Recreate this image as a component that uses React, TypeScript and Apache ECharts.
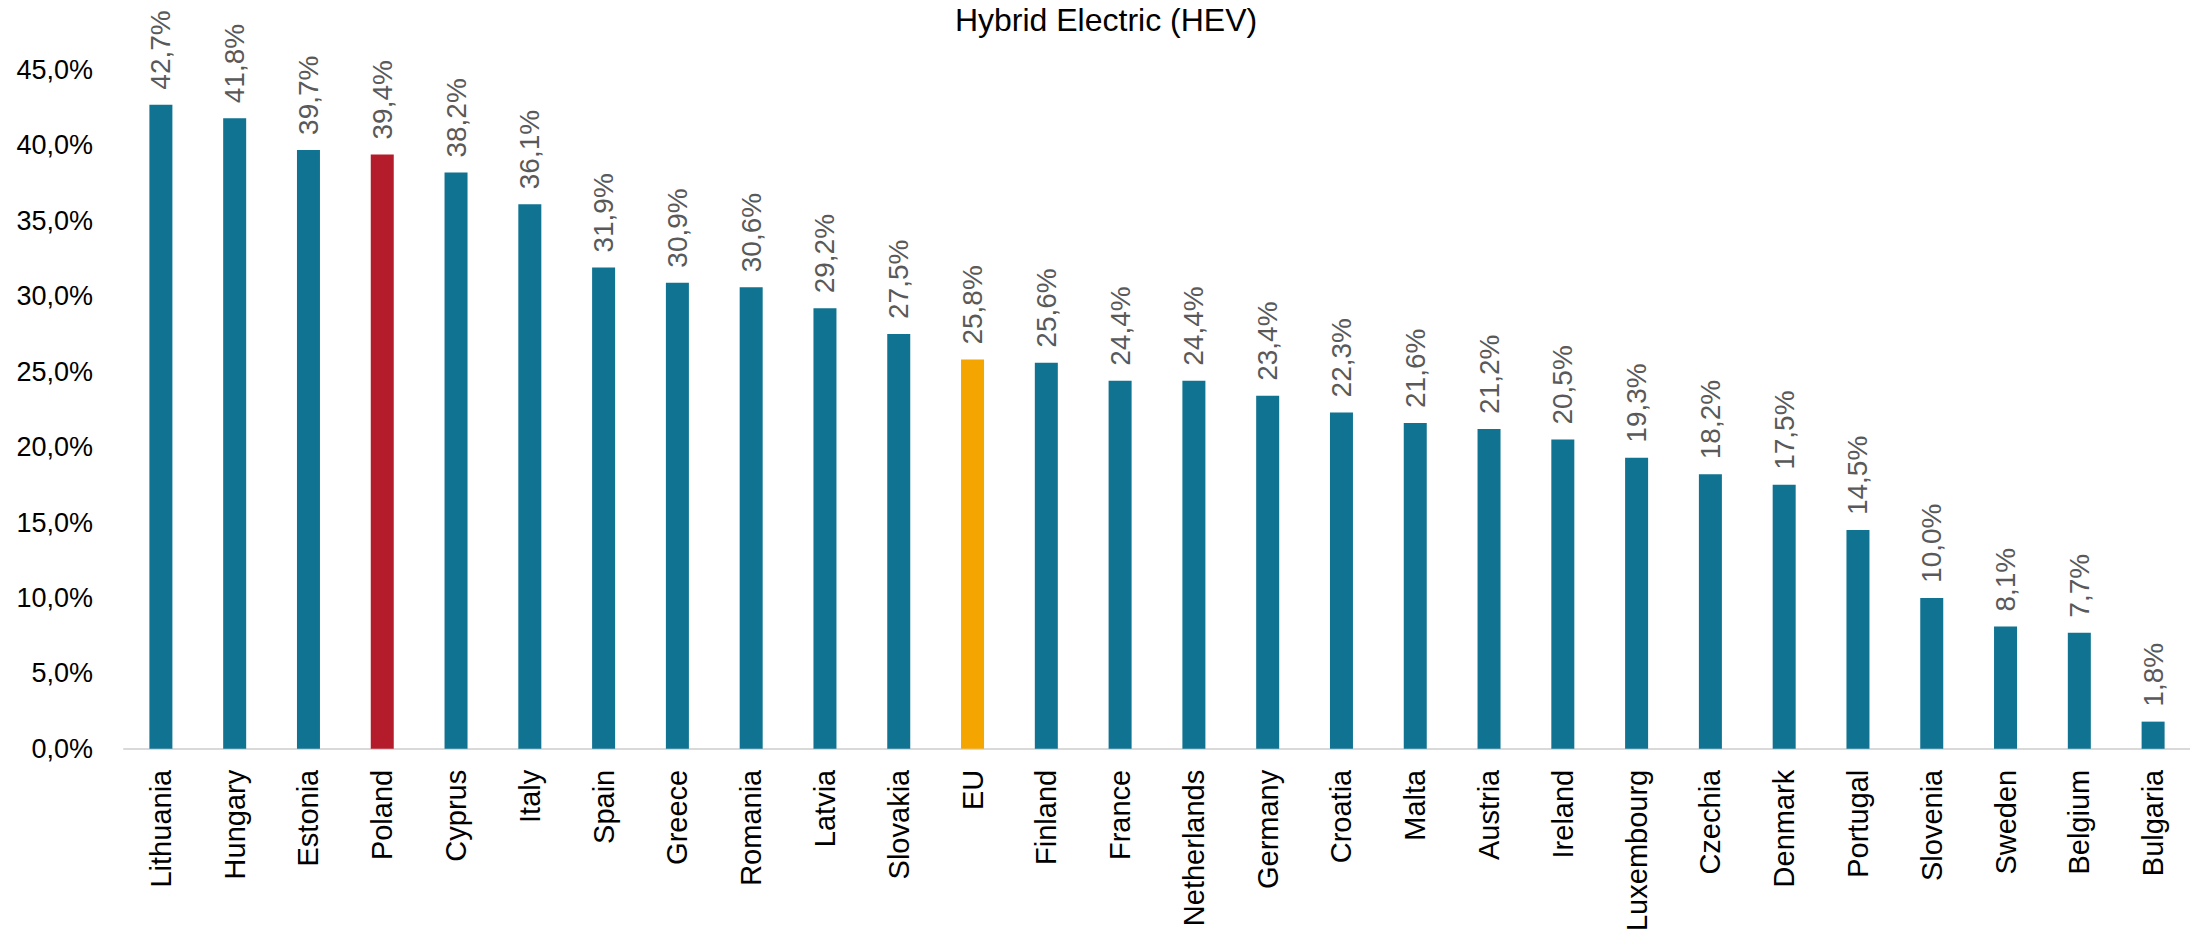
import React, { useEffect, useRef } from "react";
import * as echarts from "echarts";

const TITLE = "Hybrid Electric (HEV)";

const countries = [
  "Lithuania", "Hungary", "Estonia", "Poland", "Cyprus", "Italy", "Spain",
  "Greece", "Romania", "Latvia", "Slovakia", "EU", "Finland", "France",
  "Netherlands", "Germany", "Croatia", "Malta", "Austria", "Ireland",
  "Luxembourg", "Czechia", "Denmark", "Portugal", "Slovenia", "Sweden",
  "Belgium", "Bulgaria",
];

const shares = [
  42.7, 41.8, 39.7, 39.4, 38.2, 36.1, 31.9,
  30.9, 30.6, 29.2, 27.5, 25.8, 25.6, 24.4,
  24.4, 23.4, 22.3, 21.6, 21.2, 20.5,
  19.3, 18.2, 17.5, 14.5, 10.0, 8.1,
  7.7, 1.8,
];

const yMin = 0;
const yMax = 45;
const yStep = 5;

const BASE_COLOR = "#0F7391";
const HIGHLIGHTS: Record<string, string> = {
  Poland: "#B41C2B",
  EU: "#F5A500",
};

const FONT = "'Liberation Sans', Arial, sans-serif";

const fmt = (v: number) => v.toFixed(1).replace(".", ",") + "%";

export default function App() {
  const ref = useRef<HTMLDivElement>(null);

  useEffect(() => {
    if (!ref.current) return;
    const chart = echarts.init(ref.current, undefined, { renderer: "svg" });
    chart.setOption({
      animation: false,
      backgroundColor: "#ffffff",
      title: {
        text: TITLE,
        left: 1101,
        textAlign: "center",
        top: -1,
        textStyle: {
          fontFamily: FONT,
          fontSize: 32,
          fontWeight: "normal",
          color: "#000000",
        },
      },
      grid: {
        left: 124,
        right: -20,
        top: 70,
        bottom: 180,
        containLabel: false,
      },
      xAxis: {
        type: "category",
        data: countries,
        axisLine: { show: true, lineStyle: { color: "#D9D9D9", width: 2 } },
        axisTick: { show: false },
        axisLabel: {
          interval: 0,
          rotate: 90,
          margin: 21,
          fontFamily: FONT,
          fontSize: 29,
          color: "#000000",
        },
      },
      yAxis: {
        type: "value",
        min: yMin,
        max: yMax,
        interval: yStep,
        axisLine: { show: false },
        axisTick: { show: false },
        splitLine: { show: false },
        axisLabel: {
          margin: 31,
          fontFamily: FONT,
          fontSize: 27,
          color: "#000000",
          formatter: (v: number) => fmt(v),
        },
      },
      series: [
        {
          type: "bar",
          barWidth: 23,
          data: shares.map((v, i) => ({
            value: v,
            itemStyle: { color: HIGHLIGHTS[countries[i]] || BASE_COLOR },
          })),
          label: {
            show: true,
            position: "top",
            rotate: 90,
            align: "left",
            verticalAlign: "middle",
            distance: 15,
            fontFamily: FONT,
            fontSize: 28,
            color: "#595959",
            formatter: (p: any) => fmt(p.value),
          },
        },
      ],
    });
    return () => chart.dispose();
  }, []);

  return (
    <div
      ref={ref}
      style={{ position: "fixed", left: 0, top: 0, width: 2190, height: 934 }}
    />
  );
}
